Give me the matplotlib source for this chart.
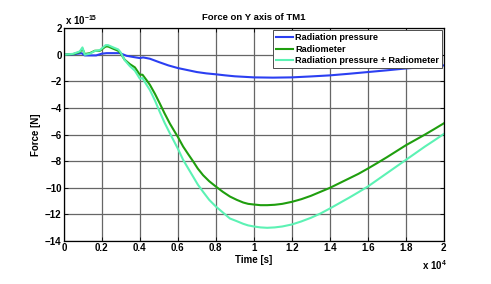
import matplotlib
matplotlib.use('Agg')
import matplotlib.pyplot as plt

plt.rcParams['font.family'] = ['Liberation Sans', 'DejaVu Sans']
plt.rcParams['font.weight'] = 'bold'
plt.rcParams['mathtext.fontset'] = 'custom'
plt.rcParams['mathtext.rm'] = 'Liberation Sans:bold'
plt.rcParams['mathtext.default'] = 'rm'

# time in units of 1e4 s, force in units of 1e-15 N
t_rp = [0, 0.049, 0.084, 0.093, 0.11, 0.17, 0.2, 0.225, 0.295, 0.33, 0.37,
        0.4, 0.417, 0.453, 0.5, 0.55, 0.6, 0.65, 0.7, 0.75, 0.8, 0.85, 0.9,
        0.95, 1.0, 1.1, 1.2, 1.3, 1.4, 1.5, 1.6, 1.7, 1.8, 1.9, 2.0]
f_rp = [0, 0.03, 0.1, 0.12, -0.05, -0.05, 0.08, 0.12, 0.12, -0.08, -0.18,
        -0.25, -0.2, -0.3, -0.55, -0.8, -1.0, -1.15, -1.3, -1.4, -1.47, -1.55,
        -1.62, -1.66, -1.7, -1.72, -1.7, -1.63, -1.55, -1.43, -1.3, -1.17,
        -1.03, -0.92, -0.8]

t_rad = [0, 0.049, 0.084, 0.098, 0.11, 0.137, 0.163, 0.19, 0.22, 0.233,
         0.26, 0.286, 0.298, 0.32, 0.347, 0.374, 0.4, 0.414, 0.435, 0.453,
         0.48, 0.505, 0.53, 0.558, 0.58, 0.6, 0.628, 0.655, 0.68, 0.705,
         0.733, 0.765, 0.8, 0.837, 0.874, 0.91, 0.944, 0.97, 1.0, 1.035,
         1.07, 1.11, 1.15, 1.2, 1.25, 1.3, 1.35, 1.4, 1.45, 1.5,
         1.55, 1.6, 1.65, 1.7, 1.75, 1.8, 1.85, 1.9, 1.95, 2.0]
f_rad = [0, 0.05, 0.2, 0.45, 0.05, 0.12, 0.3, 0.3, 0.62, 0.62,
         0.45, 0.3, 0.12, -0.37, -0.7, -0.95, -1.5, -1.5, -1.9, -2.26,
         -2.95, -3.66, -4.4, -5.17, -5.7, -6.17, -6.9, -7.48, -8.0, -8.55,
         -9.05, -9.5, -9.9, -10.3, -10.65, -10.9, -11.1, -11.2, -11.25, -11.3,
         -11.3, -11.27, -11.2, -11.05, -10.85, -10.6, -10.3, -10.0, -9.65, -9.3,
         -8.95, -8.55, -8.13, -7.7, -7.25, -6.8, -6.4, -6.0, -5.58, -5.15]

f_sum = [0, 0.07, 0.25, 0.55, 0.0, 0.08, 0.28, 0.35, 0.72, 0.72,
         0.55, 0.4, 0.2, -0.4, -0.85, -1.2, -1.8, -1.75, -2.25, -2.65,
         -3.45, -4.3, -5.1, -5.9, -6.5, -7.05, -7.9, -8.55, -9.15, -9.75,
         -10.3, -10.9, -11.4, -11.85, -12.3, -12.5, -12.7, -12.82, -12.9, -12.97,
         -13.0, -12.97, -12.9, -12.75, -12.52, -12.25, -11.93, -11.55, -11.15, -10.75,
         -10.33, -9.9, -9.4, -8.9, -8.4, -7.9, -7.4, -6.9, -6.43, -5.95]

xticks = [0, 0.2, 0.4, 0.6, 0.8, 1, 1.2, 1.4, 1.6, 1.8, 2]
yticks = [2, 0, -2, -4, -6, -8, -10, -12, -14]

fig = plt.figure(figsize=(4.91, 2.84), dpi=100)
ax = fig.add_axes([0.130, 0.151, 0.774, 0.750])

ax.plot(t_rp, f_rp, color='#2b3ff2', lw=1.5, label='Radiation pressure')
ax.plot(t_rad, f_rad, color='#1f9e0e', lw=1.5, label='Radiometer')
ax.plot(t_rad, f_sum, color='#5cf2b4', lw=1.5, label='Radiation pressure + Radiometer')

ax.set_xlim(0, 2)
ax.set_ylim(-14, 2)
ax.set_xticks(xticks)
ax.set_xticklabels(['%g' % v for v in xticks])
ax.set_yticks(yticks)
ax.set_yticklabels([('%g' % v).replace('-', '\u2212') for v in yticks])
ax.tick_params(direction='in', length=3, width=0.6, labelsize=7, pad=1.5,
               top=True, right=True)
ax.grid(True, color='0.4', lw=0.9)
for s in ax.spines.values():
    s.set_linewidth(0.9)

ax.set_title('Force on Y axis of TM1', fontsize=6.8, fontweight='bold', pad=6)
ax.set_xlabel('Time [s]', fontsize=7, fontweight='bold', labelpad=1)
ax.set_ylabel('Force [N]', fontsize=7, fontweight='bold')
ax.yaxis.set_label_coords(-0.06, 0.5)

ax.text(0.003, 1.005, 'x 10$^{\u221215}$', transform=ax.transAxes,
        fontsize=7, fontweight='bold', ha='left', va='bottom')
ax.text(1.008, -0.08, 'x 10$^{4}$', transform=ax.transAxes,
        fontsize=7, fontweight='bold', ha='right', va='top')

leg = ax.legend(loc='upper right', fontsize=6.6, frameon=True, fancybox=False,
                bbox_to_anchor=(0.995, 0.99), borderaxespad=0.0,
                handlelength=1.85, handletextpad=0.25,
                borderpad=0.3, labelspacing=0.3, framealpha=1)
leg.get_frame().set_edgecolor('0.3')
leg.get_frame().set_linewidth(0.7)
for txt in leg.get_texts():
    txt.set_fontweight('bold')

fig.savefig('out.png', dpi=100)
